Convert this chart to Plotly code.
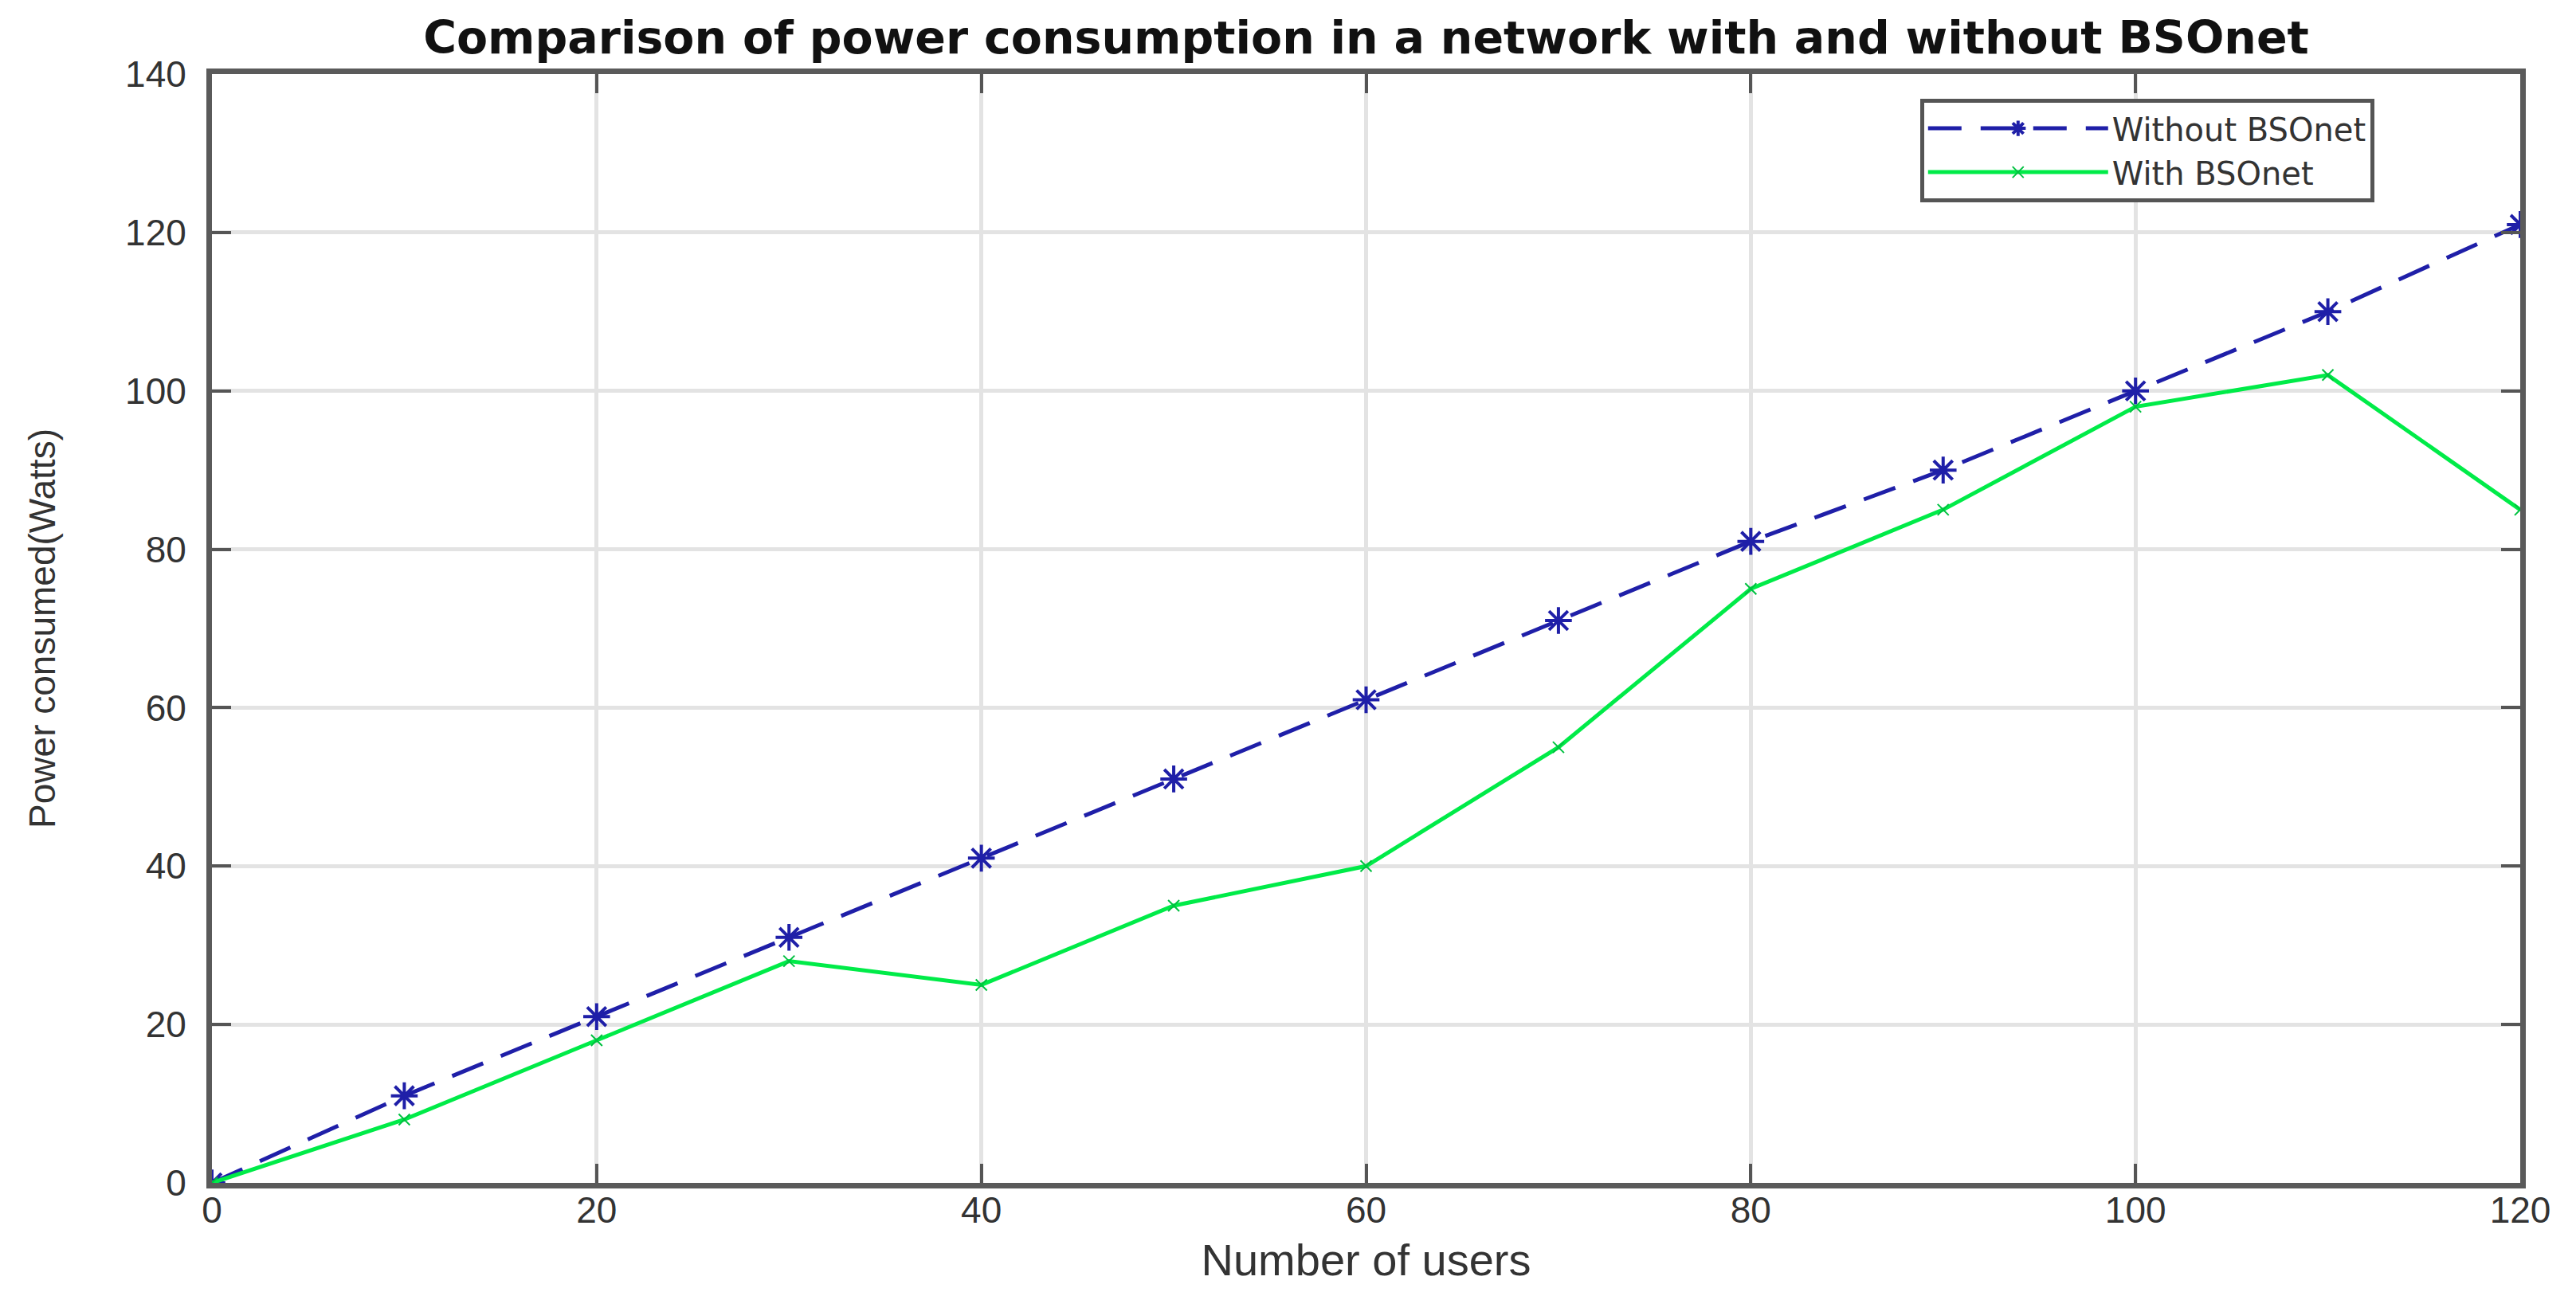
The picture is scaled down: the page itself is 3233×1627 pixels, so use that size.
import plotly.graph_objects as go

users = [0, 10, 20, 30, 40, 50, 60, 70, 80, 90, 100, 110, 120]
without_bsonet = [0, 11, 21, 31, 41, 51, 61, 71, 81, 90, 100, 110, 121]
with_bsonet = [0, 8, 18, 28, 25, 35, 40, 55, 75, 85, 98, 102, 85]
x_ticks = [0, 20, 40, 60, 80, 100, 120]
y_ticks = [0, 20, 40, 60, 80, 100, 120, 140]

fig = go.Figure()
fig.add_trace(go.Scatter(
    x=users, y=without_bsonet, name="Without BSOnet", mode="lines+markers",
    line=dict(color="#1f1fa8", width=5, dash="42px,24px"),
    marker=dict(symbol="asterisk-open", size=28, line=dict(color="#8080ff", width=4)),
))
fig.add_trace(go.Scatter(
    x=users, y=with_bsonet, name="With BSOnet", mode="lines+markers",
    line=dict(color="#00eb48", width=5),
    marker=dict(symbol="x-thin-open", size=14, color="#00c040", line=dict(color="#00c040", width=2)),
))

font_family = "Liberation Sans, Arial, sans-serif"
axis_font = dict(family=font_family, size=46, color="#333333")

fig.update_layout(
    width=3233, height=1627,
    margin=dict(l=258, r=78, t=85, b=150),
    paper_bgcolor="white", plot_bgcolor="white",
    title=dict(text="<b>Comparison of power consumption in a network with and without BSOnet</b>",
               xref="paper", x=0.5, xanchor="center", yref="container", y=0.976, yanchor="middle",
               font=dict(family="DejaVu Sans, sans-serif", size=57, color="#111111")),
    legend=dict(x=0.74, y=0.978, xanchor="left", yanchor="top",
                bgcolor="white", bordercolor="#555555", borderwidth=5,
                font=dict(family="DejaVu Sans, sans-serif", size=40, color="#333333"),
                itemwidth=226, tracegroupgap=0),
    showlegend=True,
)
fig.update_xaxes(
    range=[0, 120], tickvals=x_ticks, ticktext=[str(v) for v in x_ticks],
    showgrid=True, gridcolor="#e3e3e3", gridwidth=5,
    showline=True, linecolor="#5a5a5a", linewidth=7, mirror="ticks",
    ticks="inside", ticklen=24, tickwidth=4, tickcolor="#555555",
    ticklabelstandoff=-12,
    zeroline=False,
    tickfont=axis_font,
    title=dict(text="Number of users", font=dict(family=font_family, size=56, color="#333333"), standoff=20),
)
fig.update_yaxes(
    range=[0, 140], tickvals=y_ticks, ticktext=[str(v) for v in y_ticks],
    showgrid=True, gridcolor="#e3e3e3", gridwidth=5,
    showline=True, linecolor="#5a5a5a", linewidth=7, mirror="ticks",
    ticks="inside", ticklen=24, tickwidth=4, tickcolor="#555555",
    ticklabelstandoff=16,
    zeroline=False,
    tickfont=axis_font,
    title=dict(text="Power consumed(Watts)", font=dict(family=font_family, size=46, color="#333333"), standoff=75),
)

fig.write_html("out.html")
